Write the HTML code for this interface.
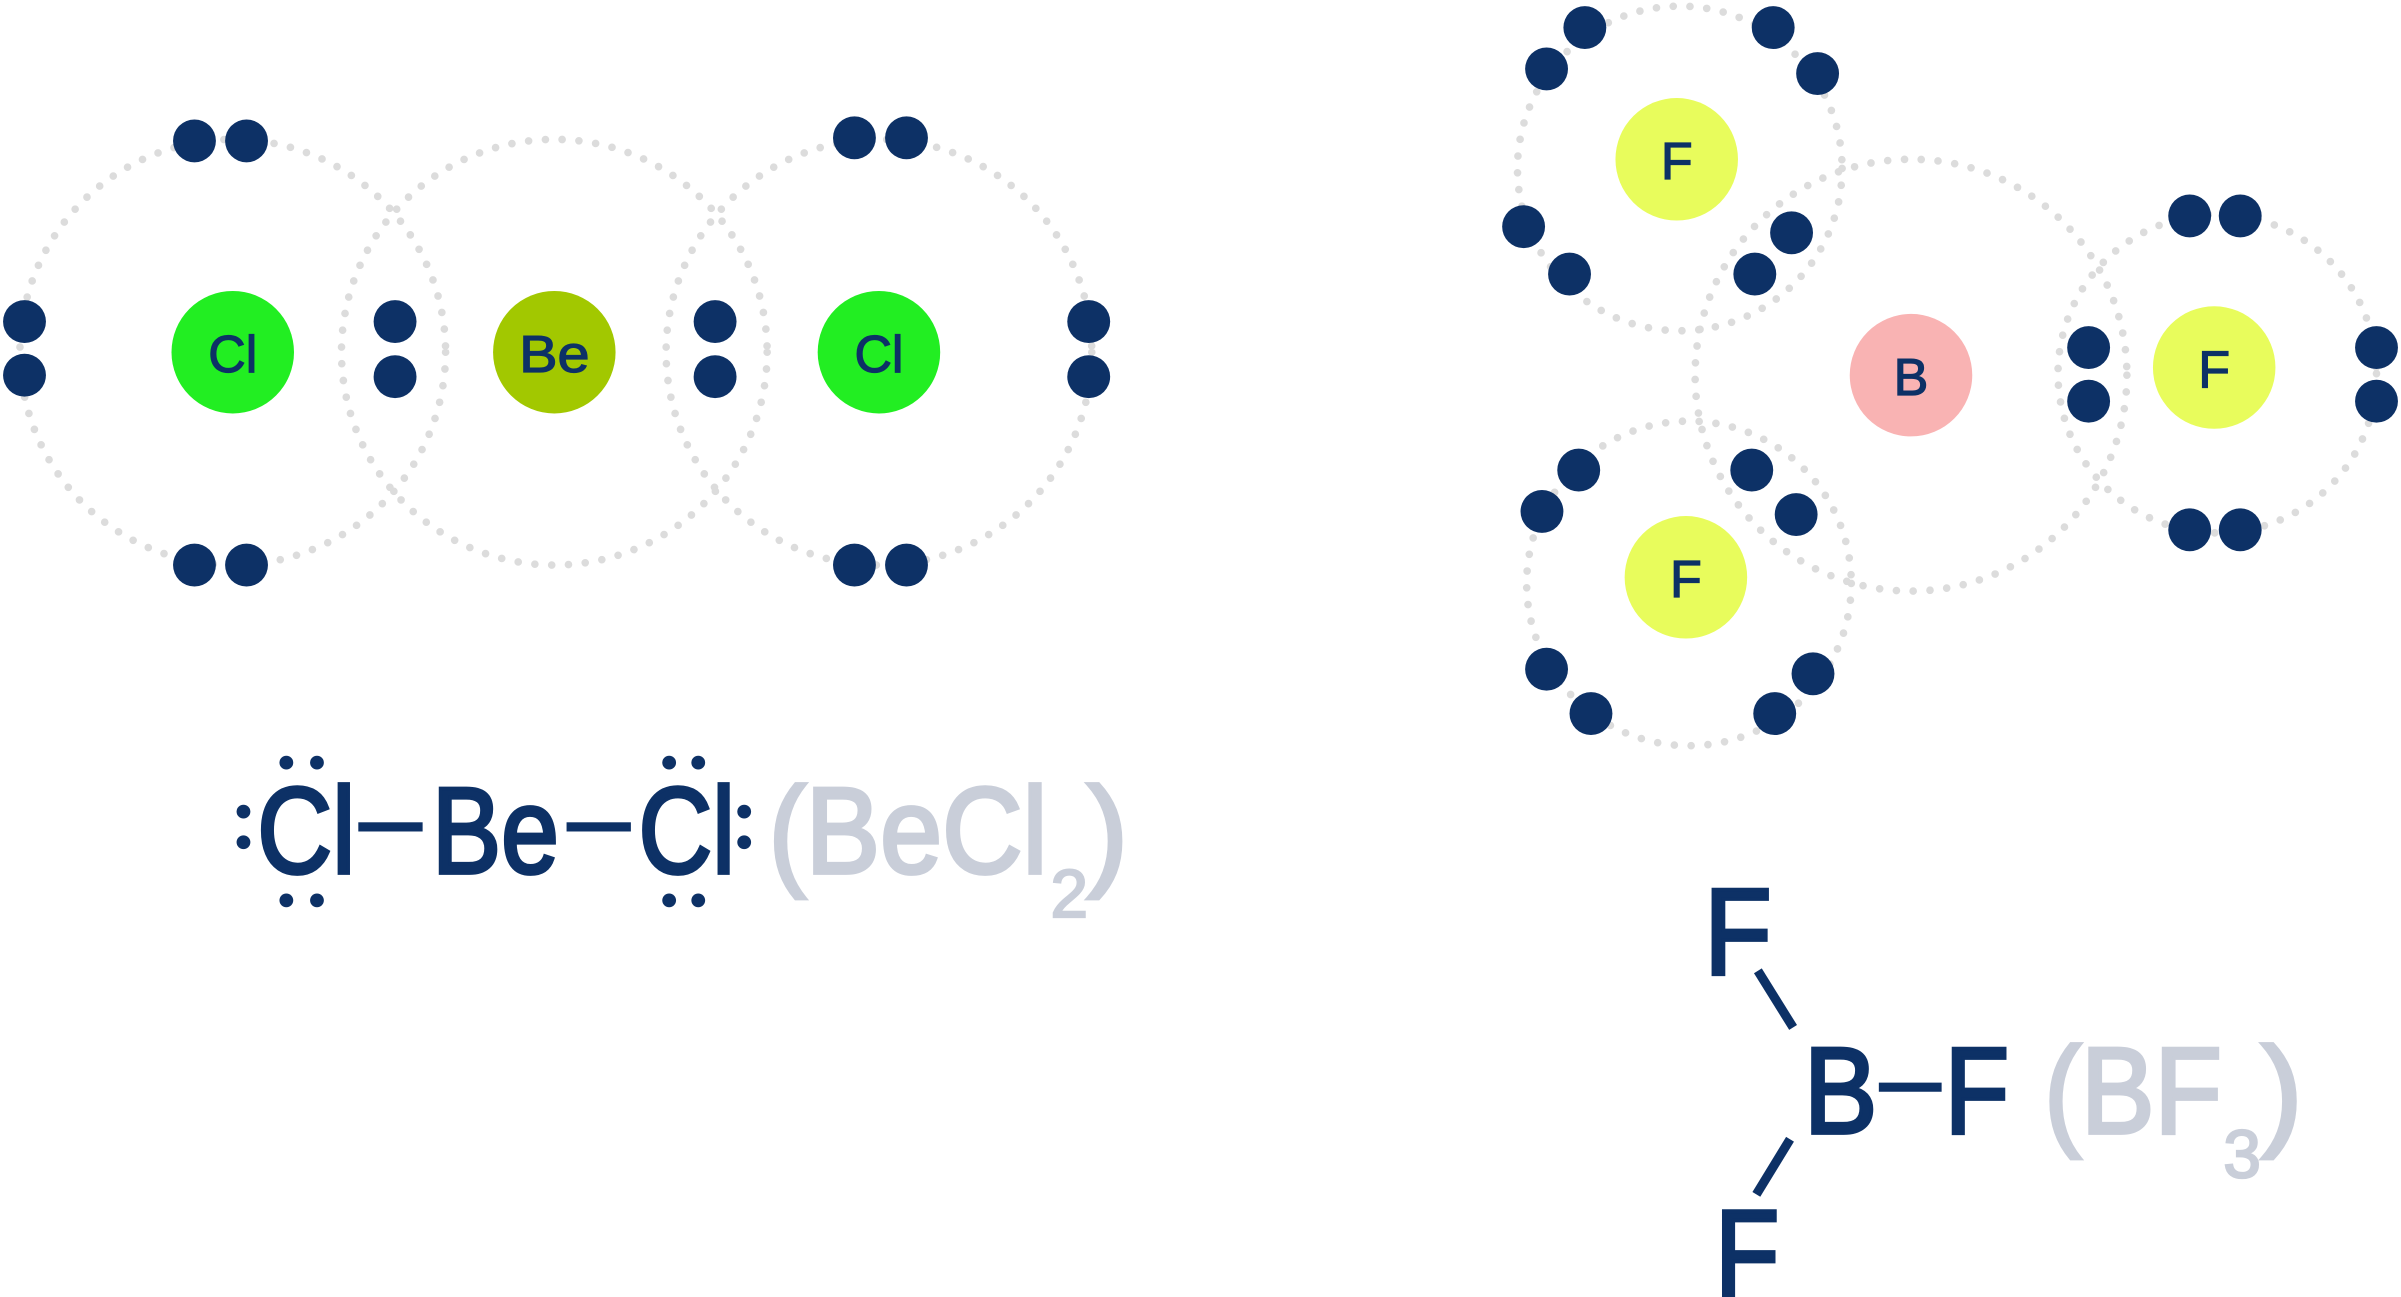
<!DOCTYPE html>
<html><head><meta charset="utf-8"><style>
html,body{margin:0;padding:0;background:#fff;}
svg{display:block;}
</style></head><body>
<svg width="2401" height="1297" viewBox="0 0 1568 847" xmlns="http://www.w3.org/2000/svg">
<g fill="none" stroke="#dcdcdc" stroke-width="5" stroke-linecap="round" stroke-dasharray="0 11">
<circle cx="152" cy="230" r="139"/>
<circle cx="362" cy="230" r="139"/>
<circle cx="574" cy="230" r="139"/>
<circle cx="1248" cy="245" r="141"/>
<circle cx="1097" cy="110" r="106"/>
<circle cx="1103" cy="381" r="106"/>
<circle cx="1448" cy="244" r="104"/>
</g>
<g font-family="Liberation Sans, sans-serif" font-size="34" text-anchor="middle" fill="#0d3166" stroke="#0d3166" stroke-width="0.8">
<circle cx="152" cy="230" r="40" fill="#22ee22" stroke="none"/>
<circle cx="362" cy="230" r="40" fill="#a2c800" stroke="none"/>
<circle cx="574" cy="230" r="40" fill="#22ee22" stroke="none"/>
<text x="152" y="243" textLength="32" lengthAdjust="spacingAndGlyphs">Cl</text><text x="362" y="243" textLength="46" lengthAdjust="spacingAndGlyphs">Be</text><text x="574" y="243" textLength="32" lengthAdjust="spacingAndGlyphs">Cl</text>
<circle cx="1248" cy="245" r="40" fill="#f9b3b3" stroke="none"/>
<circle cx="1095" cy="104" r="40" fill="#e8fc5c" stroke="none"/>
<circle cx="1446" cy="240" r="40" fill="#e8fc5c" stroke="none"/>
<circle cx="1101" cy="377" r="40" fill="#e8fc5c" stroke="none"/>
<text x="1248" y="258">B</text><text x="1095" y="117">F</text><text x="1446" y="253">F</text><text x="1101" y="390">F</text>
</g>
<g fill="#0d3166">
<circle cx="127" cy="92" r="14"/><circle cx="161" cy="92" r="14"/>
<circle cx="16" cy="210" r="14"/><circle cx="16" cy="245" r="14"/>
<circle cx="127" cy="369" r="14"/><circle cx="161" cy="369" r="14"/>
<circle cx="258" cy="210" r="14"/><circle cx="258" cy="246" r="14"/>
<circle cx="467" cy="210" r="14"/><circle cx="467" cy="246" r="14"/>
<circle cx="558" cy="90" r="14"/><circle cx="592" cy="90" r="14"/>
<circle cx="711" cy="210" r="14"/><circle cx="711" cy="246" r="14"/>
<circle cx="558" cy="369" r="14"/><circle cx="592" cy="369" r="14"/>
<circle cx="1035" cy="18" r="14"/><circle cx="1010" cy="45" r="14"/>
<circle cx="1158" cy="18" r="14"/><circle cx="1187" cy="48" r="14"/>
<circle cx="995" cy="148" r="14"/><circle cx="1025" cy="179" r="14"/>
<circle cx="1170" cy="152" r="14"/><circle cx="1146" cy="179" r="14"/>
<circle cx="1430" cy="141" r="14"/><circle cx="1463" cy="141" r="14"/>
<circle cx="1364" cy="227" r="14"/><circle cx="1364" cy="262" r="14"/>
<circle cx="1552" cy="227" r="14"/><circle cx="1552" cy="262" r="14"/>
<circle cx="1430" cy="346" r="14"/><circle cx="1463" cy="346" r="14"/>
<circle cx="1031" cy="307" r="14"/><circle cx="1007" cy="334" r="14"/>
<circle cx="1144" cy="307" r="14"/><circle cx="1173" cy="336" r="14"/>
<circle cx="1010" cy="437" r="14"/><circle cx="1039" cy="466" r="14"/>
<circle cx="1184" cy="440" r="14"/><circle cx="1159" cy="466" r="14"/>
</g>
<!-- BeCl2 formula -->
<g font-family="Liberation Sans, sans-serif" font-size="80" fill="#0d3166">
<g stroke="#0d3166" stroke-width="2.5">
<text x="168" y="570" textLength="64" lengthAdjust="spacingAndGlyphs">Cl</text>
<text x="282" y="570" textLength="83" lengthAdjust="spacingAndGlyphs">Be</text>
<text x="417" y="570" textLength="63" lengthAdjust="spacingAndGlyphs">Cl</text>
</g>
<rect x="234" y="537" width="42" height="6"/>
<rect x="370" y="537" width="42" height="6"/>
<circle cx="159" cy="530" r="4.5"/><circle cx="159" cy="550" r="4.5"/>
<circle cx="187" cy="498" r="4.5"/><circle cx="207" cy="498" r="4.5"/>
<circle cx="187" cy="588" r="4.5"/><circle cx="207" cy="588" r="4.5"/>
<circle cx="437" cy="498" r="4.5"/><circle cx="456" cy="498" r="4.5"/>
<circle cx="437" cy="588" r="4.5"/><circle cx="456" cy="588" r="4.5"/>
<circle cx="486" cy="530" r="4.5"/><circle cx="486" cy="550" r="4.5"/>
</g>
<g font-family="Liberation Sans, sans-serif" fill="#c9ced9" stroke="#c9ced9" stroke-width="2.5">
<text x="502" y="570" font-size="80" textLength="182" lengthAdjust="spacingAndGlyphs">(BeCl</text>
<text x="686" y="599" font-size="44" stroke-width="1.5">2</text>
<text x="710" y="570" font-size="80">)</text>
</g>
<!-- BF3 formula -->
<g font-family="Liberation Sans, sans-serif" font-size="80" fill="#0d3166" stroke="#0d3166" stroke-width="2.5">
<text x="1113" y="636" textLength="44" lengthAdjust="spacingAndGlyphs">F</text>
<text x="1178" y="740" textLength="48" lengthAdjust="spacingAndGlyphs">B</text>
<text x="1270" y="740" textLength="42" lengthAdjust="spacingAndGlyphs">F</text>
<text x="1120" y="846" textLength="42" lengthAdjust="spacingAndGlyphs">F</text>
</g>
<g stroke="#0d3166" stroke-width="6">
<line x1="1148" y1="634" x2="1171" y2="671"/>
<line x1="1227" y1="710" x2="1268" y2="710"/>
<line x1="1169" y1="744" x2="1147" y2="780"/>
</g>
<g font-family="Liberation Sans, sans-serif" fill="#c9ced9" stroke="#c9ced9" stroke-width="2.5">
<text x="1335" y="740" font-size="80" textLength="116" lengthAdjust="spacingAndGlyphs">(BF</text>
<text x="1452" y="769" font-size="44" stroke-width="1.5">3</text>
<text x="1477" y="740" font-size="80">)</text>
</g>
</svg>
</body></html>
